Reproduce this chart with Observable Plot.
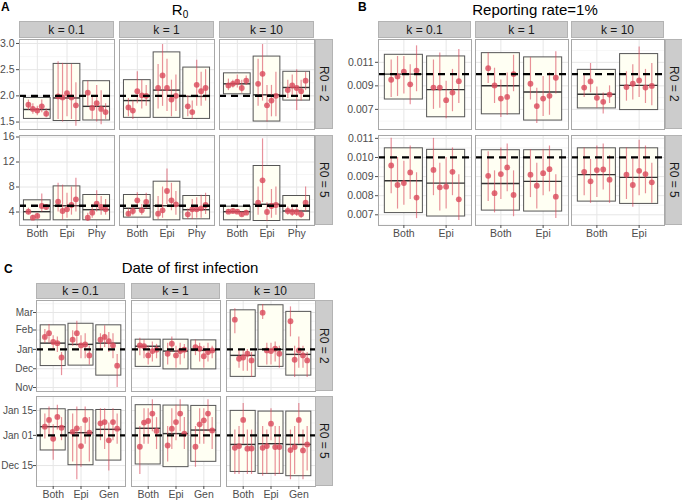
<!DOCTYPE html>
<html><head><meta charset="utf-8">
<script src="https://cdn.jsdelivr.net/npm/d3@7"></script>
<script src="https://cdn.jsdelivr.net/npm/@observablehq/plot@0.6"></script>
<style>
body{margin:0;background:#fff;font-family:"Liberation Sans",Arial,Helvetica,sans-serif;}
#chart{position:relative;width:682px;height:501px;overflow:hidden;background:#fff;}
.strip{position:absolute;background:#cccccc;border:1px solid #b3b3b3;box-sizing:border-box;color:#1a1a1a;font-size:12px;display:flex;align-items:center;justify-content:center;white-space:nowrap;}
.vstrip{writing-mode:vertical-rl;}
.title{position:absolute;font-size:15px;line-height:17px;color:#000;white-space:nowrap;transform:translateX(-50%);}
.tag{position:absolute;font-size:12px;line-height:13px;font-weight:bold;color:#000;}
</style></head><body><div id="chart"></div><script>
// ---------- labels ----------
const kLabels = ["k = 0.1", "k = 1", "k = 10"];
const rowLabels = ["R0 = 2", "R0 = 5"];
const catsA = ["Both", "Epi", "Phy"];
const catsB = ["Both", "Epi"];
const catsC = ["Both", "Epi", "Gen"];

// ---------- Panel A: R0 estimates [row][k][category][replicate] ----------
const A_true = [2, 5];
const A_est = [
  [[[1.83,1.75,1.72,1.80,1.66],[1.99,1.97,2.05,1.97,1.82],[2.06,1.77,1.86,1.75,1.69]],
   [[1.78,1.72,2.09,2.01,2.00],[2.15,2.39,2.15,1.93,2.00],[1.80,1.69,2.21,2.09,2.15]],
   [[2.20,2.23,2.27,2.15,2.29],[2.23,2.42,1.82,1.91,2.00],[2.11,2.20,2.15,2.09,2.29]]],
  [[[4.05,3.10,3.36,4.96,4.80],[5.65,4.16,4.43,5.12,6.03],[3.10,3.90,5.33,4.80,4.43]],
   [[3.73,4.16,5.87,4.27,5.60],[3.73,4.27,7.36,5.87,5.23],[3.63,4.43,4.43,4.59,5.12]],
   [[4.05,4.16,4.05,3.63,3.90],[5.49,9.07,4.00,4.96,5.12],[4.16,4.00,4.00,3.63,5.49]]]
];
const A_lo = [
  [[[1.72,1.65,1.62,1.68,1.58],[1.55,1.50,1.60,1.55,1.42],[1.80,1.55,1.50,1.45,1.55]],
   [[1.60,1.55,1.85,1.75,1.80],[1.75,1.80,1.70,1.60,1.70],[1.60,1.55,1.80,1.80,1.90]],
   [[2.10,2.15,2.15,2.05,2.20],[1.80,1.90,1.50,1.60,1.60],[1.95,2.00,1.72,1.90,2.10]]],
  [[[3.5,2.8,3.0,4.0,4.3],[4.0,2.7,3.0,3.5,4.0],[2.5,3.0,4.0,3.5,3.5]],
   [[3.2,3.4,4.6,3.5,4.5],[2.8,3.0,5.2,4.2,3.5],[2.8,2.8,3.0,3.0,3.6]],
   [[3.7,3.8,3.7,3.3,3.5],[3.5,5.5,2.5,3.0,3.5],[3.5,3.3,3.3,3.0,4.0]]]
];
const A_hi = [
  [[[1.92,1.85,1.80,1.92,1.75],[2.65,2.62,2.60,2.60,2.25],[2.28,2.00,2.20,2.10,1.85]],
   [[1.95,1.90,2.46,2.30,2.20],[2.60,2.98,2.70,2.30,2.40],[2.00,1.90,2.68,2.45,2.50]],
   [[2.32,2.30,2.40,2.30,2.38],[2.70,2.98,2.20,2.20,2.45],[2.30,2.40,2.50,2.30,2.45]]],
  [[[4.6,3.5,3.8,6.9,5.2],[8.6,8.3,7.0,8.0,9.4],[3.8,5.2,7.4,6.5,6.0]],
   [[4.5,5.0,7.1,5.2,7.0],[6.5,8.0,10.9,8.6,7.3],[4.5,6.0,6.3,6.7,7.0]],
   [[4.4,4.5,4.4,4.0,4.3],[8.0,15.7,5.5,7.6,8.0],[4.8,4.7,4.8,4.3,8.0]]]
];
// boxes: [low, middle, high]
const A_box = [
  [[[1.56,1.74,1.96],[1.52,1.96,2.61],[1.53,1.80,2.28]],
   [[1.58,1.91,2.30],[1.58,2.11,2.83],[1.56,1.99,2.54]],
   [[2.03,2.23,2.43],[1.51,2.02,2.75],[1.91,2.16,2.46]]],
  [[[2.67,4.05,5.87],[2.67,5.00,8.10],[2.67,4.37,6.72]],
   [[3.10,4.59,6.72],[2.67,5.00,8.85],[2.83,4.37,6.56]],
   [[2.67,4.05,4.85],[2.56,5.23,11.36],[2.67,4.16,6.56]]]
];

// ---------- Panel B: reporting rate ----------
const B_true = [0.01, 0.01];
const B_est = [
  [[[0.00952,0.00980,0.01020,0.00913,0.01030],[0.00885,0.00885,0.00778,0.00843,0.00940]],
   [[0.01050,0.00904,0.00792,0.00806,0.01000],[0.00918,0.00728,0.00792,0.00815,0.00969]],
   [[0.00885,0.00938,0.00798,0.00764,0.00826],[0.00890,0.00918,0.00946,0.00885,0.00899]]],
  [[[0.00958,0.00856,0.00866,0.00922,0.00790],[0.00935,0.00844,0.00847,0.00925,0.00781]],
   [[0.00904,0.00813,0.00913,0.00948,0.00804],[0.00910,0.00852,0.00918,0.00939,0.00795]],
   [[0.00925,0.00875,0.00934,0.00937,0.00884],[0.00910,0.00856,0.00930,0.00913,0.00870]]]
];
const B_lo = [
  [[[0.0080,0.0081,0.0083,0.0074,0.0085],[0.0070,0.0071,0.0062,0.0068,0.0075]],
   [[0.0092,0.0075,0.0063,0.0065,0.0085],[0.0078,0.0058,0.0064,0.0065,0.0083]],
   [[0.0080,0.0084,0.0071,0.0066,0.0075],[0.0077,0.0078,0.0080,0.0075,0.0073]]],
  [[[0.0081,0.0073,0.0075,0.0078,0.0068],[0.0080,0.0072,0.0073,0.0080,0.0067]],
   [[0.0077,0.0071,0.0078,0.0082,0.0069],[0.0079,0.0073,0.0080,0.0082,0.0068]],
   [[0.0080,0.0076,0.0079,0.0083,0.0076],[0.0078,0.0074,0.0080,0.0081,0.0076]]]
];
const B_hi = [
  [[[0.0112,0.0115,0.0115,0.0108,0.0124],[0.0112,0.0118,0.0094,0.0104,0.0121]],
   [[0.0118,0.0105,0.0095,0.0101,0.0116],[0.0114,0.0088,0.0098,0.0101,0.0119]],
   [[0.0099,0.0109,0.0089,0.0084,0.0090],[0.0102,0.0108,0.0123,0.0104,0.0109]]],
  [[[0.0110,0.0100,0.0098,0.0106,0.0092],[0.0110,0.0097,0.0100,0.0105,0.0091]],
   [[0.0103,0.0093,0.0105,0.0107,0.0093],[0.0104,0.0097,0.0104,0.0106,0.0091]],
   [[0.0105,0.0099,0.0106,0.0107,0.0101],[0.0105,0.0100,0.0109,0.0106,0.0097]]]
];
const B_box = [
  [[[0.00784,0.01000,0.01164],[0.00633,0.00868,0.01150]],
   [[0.00658,0.00901,0.01178],[0.00605,0.00848,0.01142]],
   [[0.00708,0.00829,0.01036],[0.00694,0.00904,0.01170]]],
  [[[0.00709,0.00878,0.01048],[0.00691,0.00866,0.01040]],
   [[0.00722,0.00864,0.01038],[0.00717,0.00875,0.01038]],
   [[0.00769,0.00910,0.01048],[0.00757,0.00896,0.01048]]]
];

// ---------- Panel C: date of first infection, days relative to Jan 01 ----------
const C_baseDate = "2001-01-01";
const C_true = [0, 0];
const C_est = [
  [[[20,26,12,10,-13],[15.5,26,6.4,8,-9.6],[15.5,20,13,6.4,-26]],
   [[6.4,5,-9.6,-2.7,-0.5],[-7,9,-9.6,-2.7,-0.5],[3.7,1,-11,-4.3,-1.6]],
   [[47.6,-15,-13,-7,-17.6],[58.8,-1.6,-2.7,1,-7],[45,-16.6,-1.6,-9.6,-17.6]]],
  [[[4.9,8.7,-1.9,10.4,4.3],[2,4,-6,8.7,1.5],[6.8,7.5,-2.8,7.5,3.8]],
   [[-6.4,7.2,8.1,12.3,2.5],[-5.7,3.8,7.5,12.3,1],[-6.4,6.2,8.5,12.3,2.8]],
   [[-7,-6,8.7,-7.5,-7.4],[-7,-6,6.6,-6.6,-6.6],[-8.3,-6.6,8.7,-8.5,-5.1]]]
];
const C_lo = [
  [[[10,10,0,-5,-42],[5,5,-15,-15,-25],[0,3,-5,-15,-61]],
   [[-10,-15,-25,-20,-15],[-25,-5,-30,-25,-15],[-10,-20,-30,-20,-15]],
   [[25,-30,-35,-35,-45],[48,-25,-25,-20,-30],[20,-45,-30,-30,-45]]],
  [[[-2,0,-14,3,-3],[-15,-25,-18,-5,-15],[-3,-8,-20,-3,-5]],
   [[-22,-5,-5,2,-8],[-15,-8,-3,2,-8],[-18,-5,-5,2,-8]],
   [[-22,-22,-5,-22,-22],[-23,-22,-3,-23,-22],[-25,-22,-5,-25,-20]]]
];
const C_hi = [
  [[[32,40,22,20,-5],[30,45,22,25,5],[25,38,27,25,-8]],
   [[18,15,5,12,8],[10,20,5,10,8],[15,10,5,10,5]],
   [[65,0,0,0,-5],[72,10,10,12,5],[68,5,20,5,-5]]],
  [[[12,16,6,17,10],[12,16,5,16,10],[15,15,7,15,12]],
   [[5,15,15,20,10],[5,15,17,20,10],[5,15,15,20,10]],
   [[3,5,18,3,3],[5,3,15,5,5],[3,5,18,3,5]]]
];
const C_box = [
  [[[-26.7,10,38.5],[-26,8,41],[-42,10,38.5]],
   [[-28,5,15.5],[-32,-2.7,15.5],[-32,-1.6,14.4]],
   [[-44,-9.6,62.5],[-28,0,70.6],[-42,-8,60]]],
  [[[-8.5,4.9,14.7],[-16.8,1.5,14.2],[-14.2,3.4,14.3]],
   [[-16.4,4,17],[-17.9,1,16.8],[-14.9,3,16.6]],
   [[-20.6,-5.1,13.8],[-21.7,-4.7,13.4],[-23,-5.1,13.4]]]
];

// ---------- axis ticks ----------
const A_ticks = [[1.5, 2.0, 2.5, 3.0], [4, 8, 12, 16]];
const A_minor = [[1.75, 2.25, 2.75], [2, 6, 10, 14]];
const A_dom = [[1.358, 3.076], [1.84, 16.24]];
const B_ticks = [[0.007, 0.009, 0.011], [0.007, 0.008, 0.009, 0.010, 0.011]];
const B_minor = [[0.006, 0.008, 0.010, 0.012], [0.0065, 0.0075, 0.0085, 0.0095, 0.0105]];
const B_dom = [[0.00529, 0.01294], [0.00644, 0.01115]];
const C_ticks = [[-61, -31, 0, 31, 59], [-17, 0, 14]];   // Nov 1, Dec 1, Jan 1, Feb 1, Mar 1 | Dec 15, Jan 01, Jan 15
const C_minor = [[-46, -15.5, 15.5, 45, 73], [-25.5, -8.5, 7, 21]];
const C_dom = [[-67.4, 78.2], [-28.8, 21.9]];

// ---------- drawing ----------
const chart = document.getElementById("chart");
const FONT = '"Liberation Sans", Arial, Helvetica, sans-serif';
const baseMs = Date.parse(C_baseDate + "T00:00:00Z");
const toDate = d => new Date(baseMs + d * 86400000);
const ident = d => d;

function addDiv(cls, x, y, w, h, html) {
  const el = document.createElement("div");
  el.className = cls;
  el.style.left = x + "px"; el.style.top = y + "px";
  if (w != null) el.style.width = w + "px";
  if (h != null) el.style.height = h + "px";
  el.innerHTML = html;
  chart.appendChild(el);
  return el;
}

function facet(o) {
  const n = o.cats.length;
  const pts = [], boxes = [];
  o.cats.forEach((c, ci) => {
    o.est[ci].forEach((v, r) => pts.push({
      x: ci + 1 + (r - 2) * 0.15, y: o.conv(v),
      lo: o.conv(o.lo[ci][r]), hi: o.conv(o.hi[ci][r])
    }));
    boxes.push({x1: ci + 1 - 0.45, x2: ci + 1 + 0.45,
      lo: o.conv(o.box[ci][0]), mid: o.conv(o.box[ci][1]), hi: o.conv(o.box[ci][2])});
  });
  const ml = o.showY ? o.mL : 2, mt = 2, mr = 2, mb = o.showX ? 24 : 2;
  const ticks = o.ticks.map(o.conv), minor = o.minor.map(o.conv);
  const marks = [
    Plot.gridY(minor, {stroke: "#f0f0f0", strokeOpacity: 1, strokeWidth: 0.6}),
    Plot.gridY(ticks, {stroke: "#e6e6e6", strokeOpacity: 1, strokeWidth: 1}),
    Plot.gridX(d3.range(1, n + 1), {stroke: "#e6e6e6", strokeOpacity: 1, strokeWidth: 1}),
    Plot.rect(boxes, {x1: "x1", x2: "x2", y1: "lo", y2: "hi", fill: "#fffff3", stroke: "#555555", strokeWidth: 1}),
    Plot.ruleY(boxes, {y: "mid", x1: "x1", x2: "x2", stroke: "#333333", strokeWidth: 1.4}),
    Plot.ruleX(pts, {x: "x", y1: "lo", y2: "hi", stroke: "#d9485a", strokeOpacity: 0.6, strokeWidth: 1.2}),
    Plot.dot(pts, {x: "x", y: "y", r: 2.9, fill: "#d9485a", fillOpacity: 0.8, stroke: "none"}),
    Plot.ruleY([o.conv(o.truth)], {stroke: "#000", strokeWidth: 2.3, strokeDasharray: "7,5"}),
    Plot.frame({stroke: "#a8a8a8", strokeWidth: 1})
  ];
  if (o.showY) marks.push(Plot.axisY(ticks, {anchor: "left", tickSize: 3, tickPadding: o.yPad, fontSize: o.yFont, tickFormat: o.fmt, label: null}));
  if (o.showX) marks.push(Plot.axisX(d3.range(1, n + 1), {anchor: "bottom", tickSize: 3, tickPadding: 1, tickFormat: i => o.cats[i - 1], label: null}));
  const svg = Plot.plot({
    width: ml + o.w + mr, height: mt + o.h + mb,
    marginLeft: ml, marginRight: mr, marginTop: mt, marginBottom: mb,
    style: {fontSize: "10.5px", fontFamily: FONT, color: "#4d4d4d", overflow: "visible", maxWidth: "none", background: "transparent"},
    x: {domain: [0.4, n + 0.6], axis: null, label: null},
    y: {type: o.type, domain: o.domain.map(o.conv), axis: null, label: null},
    marks
  });
  const wrap = document.createElement("div");
  wrap.style.position = "absolute";
  wrap.style.left = (o.x - ml) + "px";
  wrap.style.top = (o.y - mt) + "px";
  wrap.appendChild(svg);
  chart.appendChild(wrap);
}

const panels = [
  {est: A_est, lo: A_lo, hi: A_hi, box: A_box, cats: catsA, truth: A_true,
   ticks: A_ticks, minor: A_minor, dom: A_dom, fmt: [d3.format(".1f"), d3.format("d")],
   conv: ident, type: "linear", yFont: 10.5, yPad: 2,
   colX: [19, 119, 219], w: 95, rowY: [39, 135], h: [90, 90], mL: 19,
   stripY: 21, stripH: 17, rsX: 315, rsW: 18},
  {est: B_est, lo: B_lo, hi: B_hi, box: B_box, cats: catsB, truth: B_true,
   ticks: B_ticks, minor: B_minor, dom: B_dom, fmt: [d3.format(".3f"), d3.format(".3f")],
   conv: ident, type: "linear", yFont: 10.5, yPad: 2,
   colX: [378, 475, 571], w: 93, rowY: [39, 135], h: [90, 90], mL: 40,
   stripY: 21, stripH: 17, rsX: 665, rsW: 18},
  {est: C_est, lo: C_lo, hi: C_hi, box: C_box, cats: catsC, truth: C_true,
   ticks: C_ticks, minor: C_minor, dom: C_dom, fmt: [d3.utcFormat("%b"), d3.utcFormat("%b %d")],
   conv: toDate, type: "utc", yFont: 10, yPad: 0.5,
   colX: [36, 131, 226], w: 89, rowY: [300, 396], h: [91, 90], mL: 36,
   stripY: 283, stripH: 16, rsX: 315, rsW: 18}
];

for (const p of panels) {
  for (let r = 0; r < 2; r++) {
    for (let k = 0; k < 3; k++) {
      facet({
        est: p.est[r][k], lo: p.lo[r][k], hi: p.hi[r][k], box: p.box[r][k], cats: p.cats,
        truth: p.truth[r], ticks: p.ticks[r], minor: p.minor[r], domain: p.dom[r], fmt: p.fmt[r],
        conv: p.conv, type: p.type, yFont: p.yFont, yPad: p.yPad,
        x: p.colX[k], y: p.rowY[r], w: p.w, h: p.h[r], mL: p.mL,
        showY: k === 0, showX: r === 1
      });
    }
    addDiv("strip vstrip", p.rsX, p.rowY[r], p.rsW, p.h[r], rowLabels[r]);
  }
  for (let k = 0; k < 3; k++) addDiv("strip", p.colX[k], p.stripY, p.w, p.stripH, kLabels[k]);
}

// titles and tags
addDiv("tag", 1, 1, null, null, "A");
addDiv("title", 180, 1, null, null, 'R<span style="font-size:10px;position:relative;top:3px">0</span>');
addDiv("tag", 358, 1, null, null, "B");
addDiv("title", 535, 1, null, null, "Reporting rate=1%");
addDiv("tag", 4, 263, null, null, "C");
addDiv("title", 190, 259, null, null, "Date of first infection");
</script></body></html>
